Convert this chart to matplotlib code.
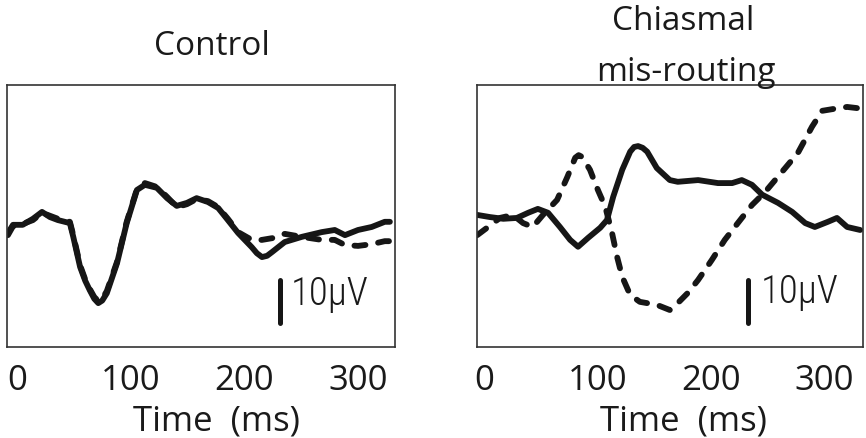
import numpy as np
import matplotlib.pyplot as plt

# control traces (time in ms, amplitude in uV)
ctrl_t = [-8, -3.5, 5, 14, 22, 29, 36, 46.5, 49.5, 55.5, 60, 64, 68, 71.5, 75, 79, 88, 96.5,
          105.5, 112.5, 123, 132, 140.5, 149.5, 158, 168, 177, 185.5, 194.5, 206.5, 211,
          215.5, 220, 224.5, 235.5, 250.5, 268, 279.5, 288.5, 300, 312, 323.5, 328]
ctrl_solid = [-0.7, 1.2, 1.2, 2.6, 4.2, 3.0, 2.3, 1.6, -1.6, -8.6, -11.8, -14.0, -16.0, -17.0,
              -16.4, -14.7, -7.7, 1.6, 9.3, 10.5, 9.8, 7.4, 5.6, 6.3, 7.4, 6.5, 5.1, 2.3,
              -0.7, -4.0, -5.4, -6.3, -6.0, -5.1, -2.8, -1.6, -0.5, 0.0, -1.2, 0.0, 0.7, 1.9,
              1.9]
ctrl_dash = [-1.2, 0.9, 1.4, 2.3, 4.0, 3.3, 2.6, 1.9, -1.2, -8.2, -11.5, -13.7, -15.6, -16.5,
             -16.0, -14.2, -7.4, 1.9, 9.5, 10.9, 10.0, 7.7, 5.3, 6.0, 7.2, 6.7, 5.3, 2.6,
             -0.5, -2.3, -2.4, -2.3, -2.1, -1.9, -0.9, -1.6, -2.3, -2.3, -3.5, -3.7, -3.3,
             -2.6, -2.6]

# chiasmal mis-routing traces
mis_t_solid = [-6, 5.3, 17, 29, 39, 47.5, 56.5, 67, 76, 83, 92, 102.5, 108.5, 114, 122, 129,
               132.5, 136, 140, 144, 152.5, 164, 171, 189, 206.5, 219, 227.5, 236.5, 245.5,
               259.5, 272, 283.5, 292, 303.5, 311.5, 320.5, 332]
mis_solid = [0.0, -0.5, -0.9, -0.7, 0.5, 1.4, 0.5, -2.8, -5.8, -7.4, -5.3, -3.0, -1.2, 4.2,
             10.5, 14.7, 15.8, 16.0, 15.6, 14.7, 10.9, 8.1, 7.7, 8.1, 7.4, 7.4, 8.1, 7.0, 4.7,
             2.8, 0.7, -1.9, -2.8, -1.6, -0.7, -2.8, -3.5]
mis_t_dash = [-6, 2.6, 14, 25.5, 34.5, 43, 52, 64.5, 73.5, 80.5, 83.5, 86.5, 93.5, 100.5, 107,
              113, 117.5, 122, 129, 137.5, 152.5, 164, 171, 180, 189, 201, 212.5, 224, 236.5,
              248, 263, 277, 289.5, 298.5, 310, 320.5, 333.5]
mis_dash = [-4.7, -3.0, -0.7, 0.0, -1.9, -2.8, 0.0, 3.5, 8.8, 13.3, 13.9, 13.5, 10.5, 5.8,
            1.9, -4.2, -9.8, -14.4, -18.6, -20.2, -20.9, -22.1, -20.5, -18.1, -15.1, -10.5,
            -5.8, -1.9, 2.3, 5.3, 10.0, 14.4, 20.5, 24.2, 24.7, 25.1, 24.7]

xticks = [0, 100, 200, 300]
scale_uv = 10

font = ['Open Sans', 'DejaVu Sans']
narrow = ['Roboto Condensed', 'Liberation Sans Narrow', 'DejaVu Sans Condensed', 'Open Sans',
          'DejaVu Sans']
plt.rcParams['font.family'] = font

fig = plt.figure(figsize=(8.66, 4.38), dpi=100)
ax1 = fig.add_axes([7/866, 91/438, 388/866, 262/438])
ax2 = fig.add_axes([477/866, 91/438, 386/866, 262/438])

lw = 4.2
ink = '#161616'
dash_kw = dict(color=ink, lw=lw, dashes=(1.9, 2.2), dash_capstyle='round',
               solid_joinstyle='round')
solid_kw = dict(color=ink, lw=lw, solid_capstyle='round', solid_joinstyle='round')

ax1.plot(ctrl_t, ctrl_dash, **dash_kw)
ax1.plot(ctrl_t, ctrl_solid, **solid_kw)
ax2.plot(mis_t_dash, mis_dash, **dash_kw)
ax2.plot(mis_t_solid, mis_solid, **solid_kw)

ax1.set_xlim(-8.8, 332.5)
ax1.set_ylim(-27.2, 33.7)
ax2.set_xlim(-6.2, 334.5)
ax2.set_ylim(-30.7, 30.2)

# scale bars
ax1.plot([231, 231], [-11.6, -11.6 - scale_uv], color=ink, lw=3.6, solid_capstyle='round')
ax1.text(241.0, -17.4, '10μV', fontsize=28, family=narrow, weight='light', va='baseline',
         ha='left', color='#1a1a1a')
ax2.plot([233, 233], [-15.1, -15.1 - scale_uv], color=ink, lw=3.6, solid_capstyle='round')
ax2.text(244.0, -20.5, '10μV', fontsize=28, family=narrow, weight='light', va='baseline',
         ha='left', color='#1a1a1a')

for ax in (ax1, ax2):
    ax.set_xticks(xticks)
    ax.set_xticklabels([str(t) for t in xticks])
    ax.set_yticks([])
    ax.tick_params(axis='x', length=0, pad=12, labelsize=25, labelcolor='#1a1a1a')
    ax.set_xlabel('Time  (ms)', fontsize=25, color='#1a1a1a')
    for s in ax.spines.values():
        s.set_linewidth(1.2)
        s.set_color('#333333')

ax1.xaxis.set_label_coords(0.541, -0.22)
ax2.xaxis.set_label_coords(0.536, -0.22)

fig.text(212/866, 1 - 55/438, 'Control', fontsize=24, ha='center', va='baseline', color='#1a1a1a')
fig.text(683/866, 1 - 30/438, 'Chiasmal', fontsize=24, ha='center', va='baseline', color='#1a1a1a')
fig.text(686/866, 1 - 81/438, 'mis-routing', fontsize=24, ha='center', va='baseline', color='#1a1a1a')

fig.savefig('out.png', dpi=100)
